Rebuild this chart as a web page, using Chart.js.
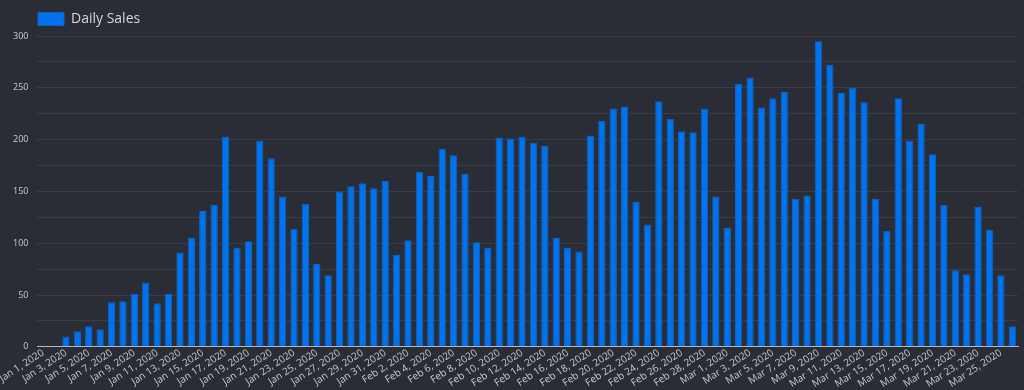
<!DOCTYPE html>
<html>
<head>
<meta charset="utf-8">
<script src="https://cdn.jsdelivr.net/npm/chart.js@4"></script>
<style>
  html, body { margin: 0; padding: 0; background: #2b2d36; }
  #wrap { width: 1024px; height: 390px; }
</style>
</head>
<body>
<div id="wrap"><canvas id="salesChart"></canvas></div>
<script>
const seriesLabel = 'Daily Sales';

const janSales = [1, 0, 10, 15, 20, 17, 43, 44, 51, 62, 42, 51, 91, 105, 131, 137, 203, 96, 102, 199,
    182, 145, 114, 138, 80, 69, 150, 155, 158, 153, 160];
const febSales = [89, 103, 169, 165, 191, 185, 167, 101, 96, 202, 201, 203, 197, 194, 105, 96, 92, 204,
    218, 230, 232, 140, 118, 237, 220, 208, 207, 230, 145];
const marSales = [115, 254, 260, 231, 240, 246, 143, 146, 295, 272, 245, 250, 236, 143, 112, 240, 199,
    215, 186, 137, 74, 70, 135, 113, 69, 20];

const monthNames = ['Jan', 'Feb', 'Mar'];
const yTicks = [0, 50, 100, 150, 200, 250, 300];

const dailySales = janSales.concat(febSales, marSales);
const dayLabels = [];
[janSales, febSales, marSales].forEach((month, m) => {
    month.forEach((_, d) => dayLabels.push(monthNames[m] + ' ' + (d + 1) + ', 2020'));
});

Chart.defaults.font.family = '"Open Sans", "Noto Sans", sans-serif';
Chart.defaults.color = '#c8cad0';

// push the legend over so it lines up with the plot area
const legendShift = {
    id: 'legendShift',
    afterLayout(chart) {
        if (chart.legend) {
            chart.legend.left += 24;
        }
    }
};

const ctx = document.getElementById('salesChart');
new Chart(ctx.getContext('2d'), {
    type: 'bar',
    data: {
        labels: dayLabels,
        datasets: [{
            label: seriesLabel,
            data: dailySales,
            backgroundColor: '#0073ec',
            borderColor: '#0a64c8',
            borderWidth: 1,
            barPercentage: 0.8,
            categoryPercentage: 0.8
        }]
    },
    options: {
        responsive: true,
        maintainAspectRatio: false,
        animation: false,
        layout: { padding: { left: 4, right: 6, top: 2, bottom: 0 } },
        plugins: {
            legend: {
                align: 'start',
                labels: {
                    boxWidth: 26,
                    boxHeight: 13,
                    font: { size: 14 },
                    color: '#d4d6dc'
                }
            },
            tooltip: { enabled: false }
        },
        scales: {
            y: {
                min: 0,
                max: 300,
                border: { display: false },
                ticks: {
                    stepSize: 25,
                    padding: 9,
                    font: { size: 9 },
                    color: '#c8cad0',
                    callback: function(value) {
                        return yTicks.includes(value) ? String(value) : '';
                    }
                },
                grid: { color: '#3a3d48', drawTicks: false }
            },
            x: {
                border: { color: '#b8bac0', width: 1 },
                grid: { display: false, drawTicks: false, tickLength: 0 },
                ticks: {
                    autoSkip: false,
                    minRotation: 33,
                    maxRotation: 33,
                    padding: 0,
                    font: { size: 10 },
                    color: '#c8cad0',
                    callback: function(value, index) {
                        return index % 2 === 0 ? dayLabels[index] : '';
                    }
                }
            }
        }
    },
    plugins: [legendShift]
});
</script>
</body>
</html>
